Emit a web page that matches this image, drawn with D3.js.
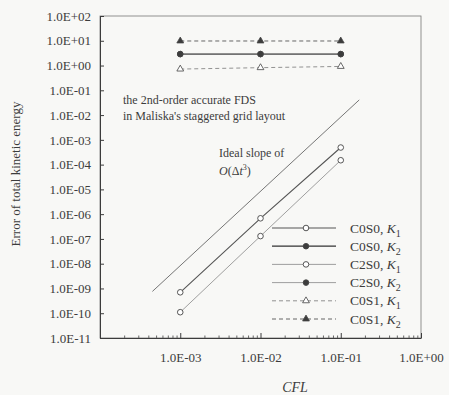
<!DOCTYPE html>
<html>
<head>
<meta charset="utf-8">
<script src="https://cdn.jsdelivr.net/npm/d3@7/dist/d3.min.js"></script>
<style>
  html, body { margin: 0; padding: 0; background: #f8f8f6; }
  svg { display: block; }
  text { font-family: "Liberation Serif", "Times New Roman", serif; fill: #3c3c3c; }
</style>
</head>
<body>
<svg id="chart" width="449" height="395"></svg>
<script>
// CFL values at which the runs were made
const cfl = [1e-3, 1e-2, 1e-1];

// Error of total kinetic energy for each scheme / quantity
const c0s0K1 = [7.0e-10, 6.8e-7, 4.9e-4];
const c0s0K2 = [2.9, 2.9, 2.9];
const c2s0K1 = [1.1e-10, 1.3e-7, 1.5e-4];
const c2s0K2 = [2.9, 2.9, 2.9];
const c0s1K1 = [0.72, 0.82, 0.92];
const c0s1K2 = [9.8, 9.8, 9.8];

// Reference line of the ideal third-order slope (end points)
const idealX = [4.5e-4, 0.17];
const idealY = [7.6e-10, 4.1e-2];

// Axis tick values
const xTicks = [1e-3, 1e-2, 1e-1, 1e0];
const yTicks = d3.range(-11, 3).map(e => Math.pow(10, e));

const svg = d3.select("#chart");
const ink = "#3c3c3c";

const x = d3.scaleLog().domain([1e-4, 1]).range([100, 421]);
const y = d3.scaleLog().domain([1e-11, 1e2]).range([338, 16]);

function sci(v) {
  const e = Math.round(Math.log10(v));
  return "1.0E" + (e < 0 ? "-" : "+") + String(Math.abs(e)).padStart(2, "0");
}

// plot frame
svg.append("rect")
  .attr("x", x.range()[0]).attr("y", y.range()[1])
  .attr("width", x.range()[1] - x.range()[0])
  .attr("height", y.range()[0] - y.range()[1])
  .attr("fill", "none").attr("stroke", "#777").attr("stroke-width", 0.8);

// y axis, ticks pointing into the plot
const yAxis = svg.append("g").attr("transform", `translate(${x.range()[0]},0)`)
  .call(d3.axisLeft(y).tickValues(yTicks).tickFormat(sci).tickSizeInner(-4).tickSizeOuter(0).tickPadding(9));
yAxis.select(".domain").attr("stroke", ink);
yAxis.selectAll(".tick line").attr("stroke", ink);
yAxis.selectAll(".tick text").attr("font-size", 13).attr("font-family", "Liberation Serif").attr("fill", ink);

// x axis, with log minor ticks
const minor = [];
for (let e = -4; e < 0; e++) for (let k = 2; k <= 9; k++) minor.push(k * Math.pow(10, e));
const xMinor = svg.append("g").attr("transform", `translate(0,${y.range()[0]})`)
  .call(d3.axisBottom(x).tickValues(minor).tickFormat("").tickSizeInner(-2.5).tickSizeOuter(0));
xMinor.select(".domain").remove();
xMinor.selectAll(".tick line").attr("stroke", "#666");

const xAxis = svg.append("g").attr("transform", `translate(0,${y.range()[0]})`)
  .call(d3.axisBottom(x).tickValues(xTicks).tickFormat(sci).tickSizeInner(-5).tickSizeOuter(0).tickPadding(15));
xAxis.select(".domain").attr("stroke", ink);
xAxis.selectAll(".tick line").attr("stroke", ink);
xAxis.selectAll(".tick text").attr("font-size", 13).attr("font-family", "Liberation Serif").attr("fill", ink);

// axis titles
svg.append("text")
  .attr("transform", "translate(20,174) rotate(-90)")
  .attr("text-anchor", "middle").attr("font-size", 13)
  .text("Error of total kinetic energy");
svg.append("text")
  .attr("x", 295).attr("y", 392).attr("text-anchor", "middle")
  .attr("font-size", 14).attr("font-style", "italic")
  .text("CFL");

// series definitions
const series = [
  { name: "C0S0", k: "1", vals: c0s0K1, marker: "circle", fill: "#fff", dash: null, stroke: "#555", width: 1.1 },
  { name: "C0S0", k: "2", vals: c0s0K2, marker: "circle", fill: ink, dash: null, stroke: "#333", width: 1.3 },
  { name: "C2S0", k: "1", vals: c2s0K1, marker: "circle", fill: "#fff", dash: null, stroke: "#888", width: 0.8 },
  { name: "C2S0", k: "2", vals: c2s0K2, marker: "circle", fill: ink, dash: null, stroke: "#888", width: 0.8 },
  { name: "C0S1", k: "1", vals: c0s1K1, marker: "triangle", fill: "#fff", dash: "4,3", stroke: "#777", width: 0.8 },
  { name: "C0S1", k: "2", vals: c0s1K2, marker: "triangle", fill: ink, dash: "4,3", stroke: "#555", width: 0.9 }
];

const line = d3.line().x(d => x(d[0])).y(d => y(d[1]));

function drawMarker(g, s, px, py) {
  if (s.marker === "circle") {
    g.append("circle").attr("cx", px).attr("cy", py).attr("r", 2.8)
      .attr("fill", s.fill).attr("stroke", "#444").attr("stroke-width", 0.9);
  } else {
    g.append("path")
      .attr("d", d3.symbol().type(d3.symbolTriangle).size(20)())
      .attr("transform", `translate(${px},${py})`)
      .attr("fill", s.fill).attr("stroke", "#444").attr("stroke-width", 0.8);
  }
}

// ideal slope reference
svg.append("path")
  .datum(idealX.map((v, i) => [v, idealY[i]]))
  .attr("d", line).attr("fill", "none").attr("stroke", "#666").attr("stroke-width", 0.9);

// draw every series with its line and markers
series.forEach(s => {
  const g = svg.append("g");
  const pts = cfl.map((c, i) => [c, s.vals[i]]);
  g.append("path").datum(pts).attr("d", line)
    .attr("fill", "none").attr("stroke", s.stroke).attr("stroke-width", s.width)
    .attr("stroke-dasharray", s.dash);
  pts.forEach(p => drawMarker(g, s, x(p[0]), y(p[1])));
});

// annotations
const note = svg.append("text").attr("x", 123).attr("font-size", 12);
note.append("tspan").attr("x", 123).attr("y", 104).text("the 2nd-order accurate FDS");
note.append("tspan").attr("x", 123).attr("y", 120).text("in Maliska's staggered grid layout");

svg.append("text").attr("x", 219).attr("y", 157).attr("font-size", 12).text("Ideal slope of");
const oo = svg.append("text").attr("x", 219).attr("y", 175).attr("font-size", 12);
oo.append("tspan").attr("font-style", "italic").text("O");
oo.append("tspan").text("(Δ");
oo.append("tspan").attr("font-style", "italic").text("t");
oo.append("tspan").attr("dy", -5).attr("font-size", 8).text("3");
oo.append("tspan").attr("dy", 5).text(")");

// legend
const leg = svg.append("g");
series.forEach((s, i) => {
  const ly = 228 + i * 18.2;
  leg.append("line").attr("x1", 272).attr("x2", 336).attr("y1", ly).attr("y2", ly)
    .attr("stroke", s.stroke).attr("stroke-width", s.width).attr("stroke-dasharray", s.dash);
  drawMarker(leg, s, 306, ly);
  const t = leg.append("text").attr("x", 350).attr("y", ly + 4.5).attr("font-size", 13.5);
  t.append("tspan").text(s.name + ", ");
  t.append("tspan").attr("font-style", "italic").text("K");
  t.append("tspan").attr("dy", 4).attr("font-size", 10).text(s.k);
});
</script>
</body>
</html>
